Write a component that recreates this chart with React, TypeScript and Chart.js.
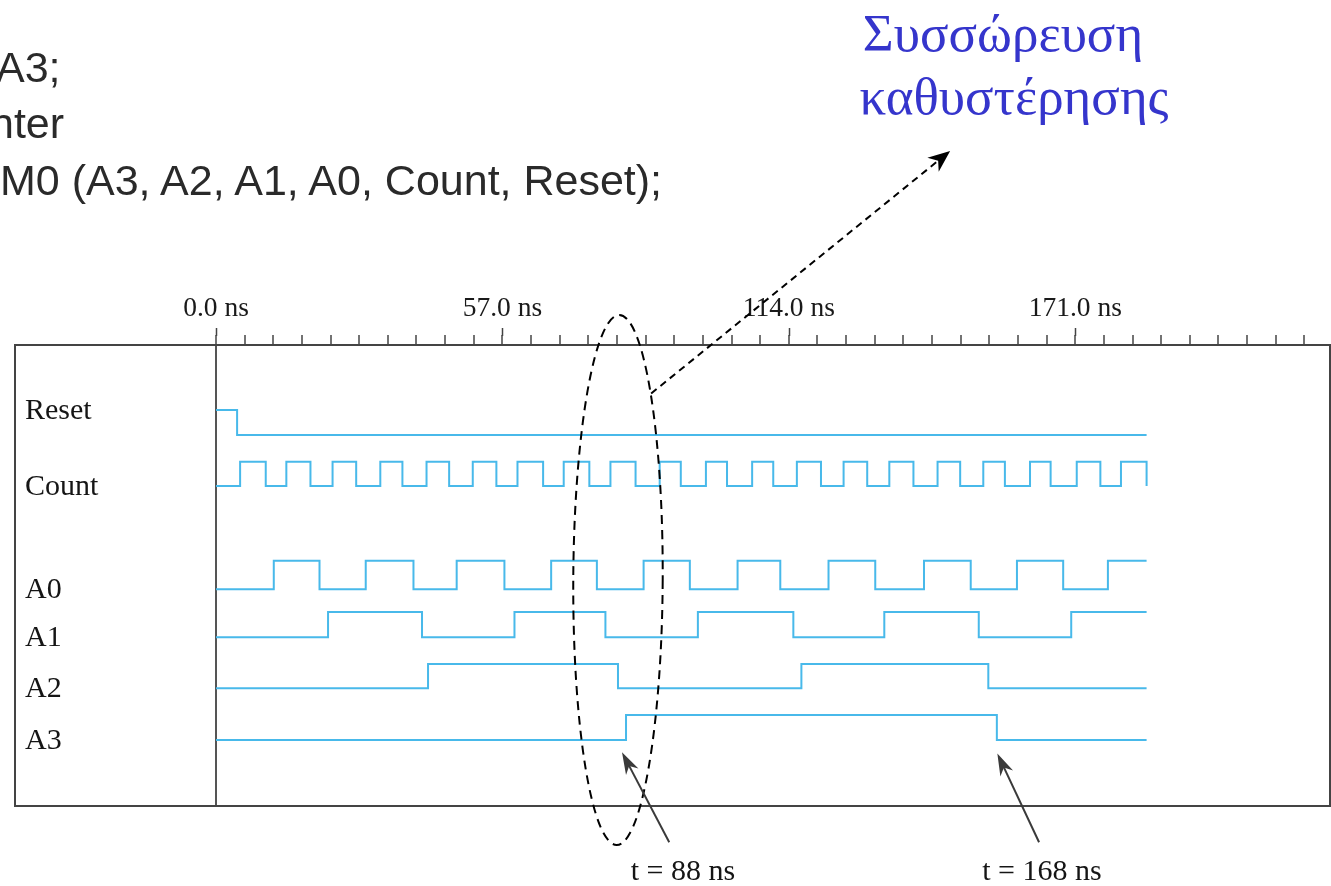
import React, { useEffect, useRef } from 'react';
import { Chart, registerables } from 'chart.js';

Chart.register(...registerables);

// ---------- data ----------
const END_TIME = 185.2; // ns, end of simulation traces
const signalNames = ['Reset', 'Count', 'A0', 'A1', 'A2', 'A3'];
// logic levels of each trace (low / high), in lane units of the y scale
const lowLevels = [14.84, 12.8, 8.67, 6.75, 4.71, 2.64];
const highLevels = [15.84, 13.77, 9.81, 7.76, 5.68, 3.64];
const initialStates = [1, 0, 0, 0, 0, 0];
// transition times (ns) of every trace
const resetEdges = [4.2];
const countEdges = [
  4.8, 9.9, 14.0, 18.8, 23.2, 27.9, 32.7, 37.1, 41.9, 46.4, 51.1, 55.8, 60.0, 65.1, 69.2, 74.3,
  78.5, 83.5, 88.3, 92.5, 97.5, 101.7, 106.7, 110.9, 115.6, 120.4, 124.9, 129.6, 134.0, 138.8,
  143.6, 148.1, 152.7, 157.0, 162.0, 166.1, 171.3, 176.0, 180.1, 185.2,
];
const a0Edges = [
  11.5, 20.6, 29.8, 39.3, 47.9, 57.4, 66.7, 75.8, 85.1, 94.3, 103.8, 112.3, 121.9, 131.2, 140.9,
  150.2, 159.4, 168.6, 177.5,
];
const a1Edges = [22.3, 41.0, 59.4, 77.5, 95.9, 114.9, 133.0, 151.8, 170.2];
const a2Edges = [42.2, 80.0, 116.5, 153.7];
const a3Edges = [81.6, 155.4];
const allEdges = [resetEdges, countEdges, a0Edges, a1Edges, a2Edges, a3Edges];

// time axis
const X_MIN = -40;
const X_MAX = 221.7;
const majorTickValues = [0, 57, 114, 171];
const majorTickLabels = ['0.0 ns', '57.0 ns', '114.0 ns', '171.0 ns'];
const minorTickStep = 5.7;
const minorTickCount = 39;
const Y_MAX = 18.44;

// annotations (data units)
const ellipseNote = { t: 80.0, level: 9.04, halfT: 8.9, halfLevel: 10.6 };
const delayArrow = { fromT: 86.6, fromLevel: 16.5, toT: 146.1, toLevel: 26.2 };
const edgeArrows = [
  { fromT: 90.2, fromLevel: -1.45, toT: 80.8, toLevel: 2.15 },
  { fromT: 163.8, fromLevel: -1.45, toT: 155.5, toLevel: 2.1 },
];

const TRACE_COLOR = '#48b9ea';
const SERIF = "'Liberation Serif', 'Times New Roman', serif";
const SANS = "'Liberation Sans', Arial, sans-serif";

function buildTrace(i: number) {
  const level = (s: number) => (s ? highLevels[i] : lowLevels[i]);
  let state = initialStates[i];
  const pts: { x: number; y: number }[] = [{ x: 0, y: level(state) }];
  for (const e of allEdges[i]) {
    state = state ^ 1;
    pts.push({ x: e, y: level(state) });
  }
  if (pts[pts.length - 1].x < END_TIME) pts.push({ x: END_TIME, y: level(state) });
  return pts;
}

function arrowHead(
  ctx: CanvasRenderingContext2D,
  x1: number,
  y1: number,
  x2: number,
  y2: number,
  len: number,
  halfW: number,
  color: string
) {
  const ang = Math.atan2(y2 - y1, x2 - x1);
  const c = Math.cos(ang);
  const s = Math.sin(ang);
  const bx = x2 - c * len;
  const by = y2 - s * len;
  const nx = x2 - c * len * 0.7;
  const ny = y2 - s * len * 0.7;
  ctx.save();
  ctx.setLineDash([]);
  ctx.fillStyle = color;
  ctx.beginPath();
  ctx.moveTo(x2, y2);
  ctx.lineTo(bx - s * halfW, by + c * halfW);
  ctx.lineTo(nx, ny);
  ctx.lineTo(bx + s * halfW, by - c * halfW);
  ctx.closePath();
  ctx.fill();
  ctx.restore();
}

const decorPlugin = {
  id: 'timingDecor',
  afterDraw(chart: any) {
    const { ctx, chartArea: a, scales } = chart;
    const xs = scales.x;
    const ys = scales.y;
    ctx.save();
    // box edges (left, bottom, right)
    ctx.strokeStyle = '#444';
    ctx.lineWidth = 2;
    ctx.beginPath();
    ctx.moveTo(a.left, a.top);
    ctx.lineTo(a.left, a.bottom);
    ctx.lineTo(a.right, a.bottom);
    ctx.lineTo(a.right, a.top);
    ctx.stroke();
    // longer major ticks
    ctx.lineWidth = 1.5;
    ctx.strokeStyle = '#444';
    for (const m of majorTickValues) {
      const px = Math.round(xs.getPixelForValue(m)) + 0.5;
      ctx.beginPath();
      ctx.moveTo(px, a.top - 9);
      ctx.lineTo(px, a.top - 17);
      ctx.stroke();
    }
    // signal names
    ctx.fillStyle = '#151515';
    ctx.font = `30px ${SERIF}`;
    ctx.textBaseline = 'middle';
    ctx.textAlign = 'left';
    signalNames.forEach((name, i) => {
      const lvl = initialStates[i] ? highLevels[i] : lowLevels[i];
      ctx.fillText(name, a.left + 10, ys.getPixelForValue(lvl) + 1);
    });
    // dashed ellipse
    const cx = xs.getPixelForValue(ellipseNote.t);
    const cy = ys.getPixelForValue(ellipseNote.level);
    const rx = xs.getPixelForValue(ellipseNote.t + ellipseNote.halfT) - cx;
    const ry = cy - ys.getPixelForValue(ellipseNote.level + ellipseNote.halfLevel);
    ctx.strokeStyle = '#000';
    ctx.lineWidth = 2;
    ctx.setLineDash([9, 6]);
    ctx.beginPath();
    ctx.ellipse(cx, cy, rx, ry, 0.005, 0, Math.PI * 2);
    ctx.stroke();
    // dashed arrow
    const dx1 = xs.getPixelForValue(delayArrow.fromT);
    const dy1 = ys.getPixelForValue(delayArrow.fromLevel);
    const dx2 = xs.getPixelForValue(delayArrow.toT);
    const dy2 = ys.getPixelForValue(delayArrow.toLevel);
    ctx.setLineDash([7, 5]);
    ctx.beginPath();
    ctx.moveTo(dx1, dy1);
    const ang = Math.atan2(dy2 - dy1, dx2 - dx1);
    ctx.lineTo(dx2 - Math.cos(ang) * 12, dy2 - Math.sin(ang) * 12);
    ctx.stroke();
    arrowHead(ctx, dx1, dy1, dx2, dy2, 22, 9, '#000');
    // solid arrows to the A3 edges
    ctx.setLineDash([]);
    ctx.strokeStyle = '#3a3a3a';
    ctx.lineWidth = 2;
    for (const ar of edgeArrows) {
      const x1 = xs.getPixelForValue(ar.fromT);
      const y1 = ys.getPixelForValue(ar.fromLevel);
      const x2 = xs.getPixelForValue(ar.toT);
      const y2 = ys.getPixelForValue(ar.toLevel);
      const an = Math.atan2(y2 - y1, x2 - x1);
      ctx.beginPath();
      ctx.moveTo(x1, y1);
      ctx.lineTo(x2 - Math.cos(an) * 14, y2 - Math.sin(an) * 14);
      ctx.stroke();
      arrowHead(ctx, x1, y1, x2, y2, 22, 7, '#3a3a3a');
    }
    ctx.restore();
  },
};

const textBase: React.CSSProperties = {
  position: 'absolute',
  whiteSpace: 'nowrap',
  lineHeight: 1,
  margin: 0,
};

export default function App() {
  const canvasRef = useRef<HTMLCanvasElement>(null);

  useEffect(() => {
    const canvas = canvasRef.current;
    if (!canvas) return;
    const datasets = signalNames.map((name, i) => ({
      label: name,
      data: buildTrace(i),
      borderColor: TRACE_COLOR,
      borderWidth: 2,
      pointRadius: 0,
      stepped: true as const,
      fill: false,
    }));
    const chart = new Chart(canvas, {
      type: 'line',
      data: { datasets },
      options: {
        animation: false,
        responsive: false,
        devicePixelRatio: 1,
        layout: { padding: { left: 15, right: 1, top: 282, bottom: 80 } },
        plugins: { legend: { display: false }, tooltip: { enabled: false } },
        scales: {
          x: {
            type: 'linear',
            position: 'top',
            min: X_MIN,
            max: X_MAX,
            afterBuildTicks: (scale: any) => {
              scale.ticks = Array.from({ length: minorTickCount }, (_, k) => ({
                value: Math.round(k * minorTickStep * 10) / 10,
              }));
            },
            ticks: {
              autoSkip: false,
              maxRotation: 0,
              minRotation: 0,
              padding: 10,
              color: '#1a1a1a',
              font: { family: SERIF, size: 27.5, lineHeight: 1.2 },
              callback: (value: any) => {
                const idx = majorTickValues.findIndex((m) => Math.abs(m - Number(value)) < 1e-6);
                return idx >= 0 ? majorTickLabels[idx] : '';
              },
            },
            grid: {
              display: true,
              drawOnChartArea: true,
              drawTicks: true,
              tickLength: 10,
              lineWidth: 2,
              tickWidth: 1.5,
              tickColor: '#444',
              color: (c: any) => (c.tick && c.tick.value === 0 ? '#555' : 'rgba(0,0,0,0)'),
            },
            border: { display: true, color: '#444', width: 2 },
          },
          y: { type: 'linear', min: 0, max: Y_MAX, display: false },
        },
      },
      plugins: [decorPlugin],
    } as any);
    return () => chart.destroy();
  }, []);

  return (
    <div
      style={{
        position: 'absolute',
        left: 0,
        top: 0,
        width: 1331,
        height: 886,
        overflow: 'hidden',
        background: '#ffffff',
      }}
    >
      <canvas
        ref={canvasRef}
        width={1331}
        height={886}
        style={{ position: 'absolute', left: 0, top: 0, width: 1331, height: 886 }}
      />
      {/* code fragment */}
      <div style={{ ...textBase, left: -4, top: 46, fontFamily: SANS, fontSize: 43, color: '#2a2a2a' }}>A3;</div>
      <div style={{ ...textBase, left: -10, top: 102, fontFamily: SANS, fontSize: 43, color: '#2a2a2a' }}>nter</div>
      <div style={{ ...textBase, left: 0, top: 159, fontFamily: SANS, fontSize: 43, color: '#2a2a2a' }}>M0 (A3, A2, A1, A0, Count, Reset);</div>
      {/* Greek heading */}
      <div style={{ ...textBase, left: 703, width: 600, top: 7, textAlign: 'center', fontFamily: SERIF, fontSize: 53, color: '#3535cc' }}>Συσσώρευση</div>
      <div style={{ ...textBase, left: 714, width: 600, top: 70, textAlign: 'center', fontFamily: SERIF, fontSize: 53, color: '#3535cc' }}>καθυστέρησης</div>
      {/* edge time labels */}
      <div style={{ ...textBase, left: 533, width: 300, top: 855, textAlign: 'center', fontFamily: SERIF, fontSize: 30, color: '#151515' }}>t = 88 ns</div>
      <div style={{ ...textBase, left: 892, width: 300, top: 855, textAlign: 'center', fontFamily: SERIF, fontSize: 30, color: '#151515' }}>t = 168 ns</div>
    </div>
  );
}
